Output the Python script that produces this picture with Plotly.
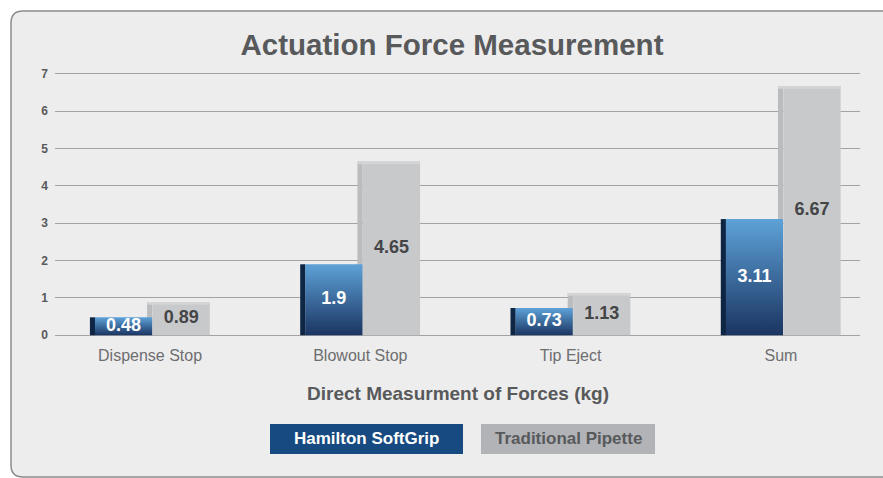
import plotly.graph_objects as go

# ---------------- data ----------------
categories = ["Dispense Stop", "Blowout Stop", "Tip Eject", "Sum"]
hamilton = [0.48, 1.9, 0.73, 3.11]
traditional = [0.89, 4.65, 1.13, 6.67]
hamilton_labels = ["0.48", "1.9", "0.73", "3.11"]
traditional_labels = ["0.89", "4.65", "1.13", "6.67"]
y_ticks = [0, 1, 2, 3, 4, 5, 6, 7]
series_names = ["Hamilton SoftGrip", "Traditional Pipette"]
title_text = "Actuation Force Measurement"
x_title_text = "Direct Measurment of Forces (kg)"

# ---------------- layout geometry ----------------
W, H = 883, 478
ML, MR, MT, MB = 55, 23, 70, 139
PW = W - ML - MR
PH = H - MT - MB


def px(x):
    return (x - ML) / PW


def py(y):
    return (H - MB - y) / PH


FONT = "Liberation Sans, Arial, Helvetica, sans-serif"
xpos = list(range(len(categories)))
X_RANGE = [-0.452, 3.376]
Y_RANGE = [-0.1, 7.1]

SIDE_W = 0.025
FRONT_W = 0.272
BLUE_SIDE_OFF = -0.286
BLUE_OFF = -0.262
GRAY_SIDE_OFF = -0.014
GRAY_OFF = 0.012
LIP = 0.07

BLUE_SIDE = "#0e2544"
BLUE_BOTTOM = "#1a3461"
BLUE_TOP = "#5ea2d8"
GRAY_FRONT = "#c8c9cb"
GRAY_SIDE = "#bbbcbe"
GRAY_LIP = "#d3d4d5"

fig = go.Figure()

# gray bars (behind)
fig.add_trace(go.Bar(x=xpos, y=traditional, offset=GRAY_SIDE_OFF, width=SIDE_W,
                     marker=dict(color=GRAY_SIDE, line=dict(width=0)),
                     showlegend=False, hoverinfo="skip"))
fig.add_trace(go.Bar(x=xpos, y=traditional, offset=GRAY_OFF, width=FRONT_W,
                     marker=dict(color=GRAY_FRONT, line=dict(width=0)),
                     name=series_names[1], showlegend=False))
fig.add_trace(go.Bar(x=xpos, y=[LIP] * len(traditional),
                     base=[v - LIP for v in traditional],
                     offset=GRAY_SIDE_OFF, width=FRONT_W + GRAY_OFF - GRAY_SIDE_OFF,
                     marker=dict(color=GRAY_LIP, line=dict(width=0)),
                     showlegend=False, hoverinfo="skip"))
# blue side faces
fig.add_trace(go.Bar(x=xpos, y=hamilton, offset=BLUE_SIDE_OFF, width=SIDE_W,
                     marker=dict(color=BLUE_SIDE, line=dict(width=0)),
                     showlegend=False, hoverinfo="skip"))
# blue front faces with vertical gradient
for x0, v in zip(xpos, hamilton):
    l = x0 + BLUE_OFF
    r = l + FRONT_W
    fig.add_trace(go.Scatter(
        x=[l, r, r, l, l], y=[0, 0, v, v, 0], mode="none", fill="toself",
        fillgradient=dict(type="vertical",
                          colorscale=[[0, BLUE_BOTTOM], [1, BLUE_TOP]]),
        name=series_names[0], showlegend=False, hoverinfo="skip"))

# value labels
fig.add_trace(go.Scatter(
    x=[x + BLUE_OFF + FRONT_W / 2 for x in xpos], y=[v / 2 for v in hamilton],
    mode="text", text=hamilton_labels,
    textfont=dict(family=FONT, size=18, color="white", weight="bold"),
    showlegend=False, hoverinfo="skip"))
fig.add_trace(go.Scatter(
    x=[x + GRAY_OFF + FRONT_W / 2 for x in xpos], y=[v / 2 for v in traditional],
    mode="text", text=traditional_labels,
    textfont=dict(family=FONT, size=18, color="#444547", weight="bold"),
    showlegend=False, hoverinfo="skip"))

r = 12
panel_path = (
    f"M {px(11)},{py(11 + r)} Q {px(11)},{py(11)} {px(11 + r)},{py(11)} "
    f"L {px(920)},{py(11)} L {px(920)},{py(477)} L {px(11 + r)},{py(477)} "
    f"Q {px(11)},{py(477)} {px(11)},{py(477 - r)} Z"
)

shapes = [
    dict(type="path", path=panel_path, xref="paper", yref="paper",
         fillcolor="#ededed", line=dict(color="#8c8c8c", width=1.5), layer="below"),
    dict(type="rect", xref="paper", yref="paper",
         x0=px(270), x1=px(463), y0=py(454), y1=py(424),
         fillcolor="#164a80", line=dict(width=0)),
    dict(type="rect", xref="paper", yref="paper",
         x0=px(481), x1=px(655), y0=py(454), y1=py(424),
         fillcolor="#b1b3b6", line=dict(width=0)),
]

annotations = [
    dict(text=f"<b>{x_title_text}</b>", x=px(458), y=py(394), xref="paper", yref="paper",
         showarrow=False, xanchor="center", yanchor="middle",
         font=dict(family=FONT, size=19, color="#58595b")),
    dict(text=f"<b>{series_names[0]}</b>", x=px(366.5), y=py(439), xref="paper", yref="paper",
         showarrow=False, xanchor="center", yanchor="middle",
         font=dict(family=FONT, size=17, color="white")),
    dict(text=f"<b>{series_names[1]}</b>", x=px(568), y=py(439), xref="paper", yref="paper",
         showarrow=False, xanchor="center", yanchor="middle",
         font=dict(family=FONT, size=17, color="#58595b")),
]

fig.update_layout(
    width=W, height=H,
    margin=dict(l=ML, r=MR, t=MT, b=MB, pad=0),
    paper_bgcolor="white", plot_bgcolor="rgba(0,0,0,0)",
    barmode="overlay", showlegend=False,
    title=dict(text=f"<b>{title_text}</b>", x=452 / W, xanchor="center",
               y=1 - 45 / H, yanchor="middle", yref="container",
               font=dict(family=FONT, size=29.5, color="#58595b")),
    xaxis=dict(range=X_RANGE, tickvals=xpos, ticktext=categories, showgrid=False,
               zeroline=False, showline=False, ticks="",
               tickfont=dict(family=FONT, size=16, color="#6d6e70"),
               ticklabelstandoff=5),
    yaxis=dict(range=Y_RANGE, tickvals=y_ticks, showgrid=True, gridcolor="#a3a3a3",
               gridwidth=1, zeroline=False, showline=False, ticks="",
               tickfont=dict(family=FONT, size=12, color="#58595b", weight="bold"),
               ticklabelstandoff=6),
    shapes=shapes, annotations=annotations,
)

fig.write_html(
    "out.html",
    config={"displayModeBar": False},
    post_script="document.body.style.margin='0';document.body.style.overflow='hidden';",
)
